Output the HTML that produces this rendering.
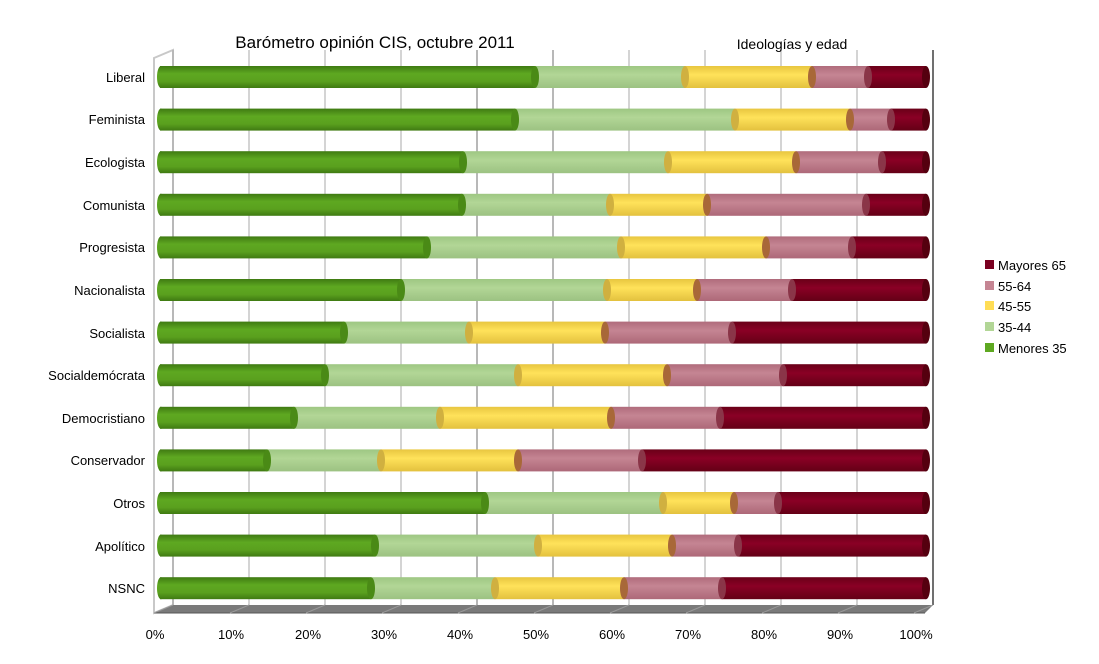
<!DOCTYPE html>
<html><head><meta charset="utf-8"><style>
html,body{margin:0;padding:0;background:#fff;}
svg{display:block;font-family:"Liberation Sans",sans-serif;}
</style></head><body>
<svg id="s" width="1099" height="664" viewBox="0 0 1099 664" xmlns="http://www.w3.org/2000/svg">
<defs>
<linearGradient id="g0" x1="0" y1="0" x2="0" y2="1"><stop offset="0" stop-color="#3f7a12"/><stop offset="0.35" stop-color="#5ea821"/><stop offset="0.7" stop-color="#5aa01e"/><stop offset="1" stop-color="#3f7a12"/></linearGradient>
<linearGradient id="g1" x1="0" y1="0" x2="0" y2="1"><stop offset="0" stop-color="#9ec783"/><stop offset="0.4" stop-color="#b2d696"/><stop offset="1" stop-color="#9cc282"/></linearGradient>
<linearGradient id="g2" x1="0" y1="0" x2="0" y2="1"><stop offset="0" stop-color="#e8c640"/><stop offset="0.4" stop-color="#ffe25a"/><stop offset="1" stop-color="#e3c13e"/></linearGradient>
<linearGradient id="g3" x1="0" y1="0" x2="0" y2="1"><stop offset="0" stop-color="#b06c7c"/><stop offset="0.4" stop-color="#c58593"/><stop offset="1" stop-color="#ad6878"/></linearGradient>
<linearGradient id="g4" x1="0" y1="0" x2="0" y2="1"><stop offset="0" stop-color="#6a0018"/><stop offset="0.4" stop-color="#8a0025"/><stop offset="1" stop-color="#640016"/></linearGradient>
</defs>
<!-- walls -->
<polygon points="154,58 173,50 173,605 154,613" fill="#fff" stroke="#c8c8c8" stroke-width="2"/>
<polygon points="154,613 173,605 933,605 925,613" fill="#7a7a7a"/>
<line x1="154" y1="613" x2="925" y2="613" stroke="#555"/>
<g id="grid" stroke="#9a9a9a" stroke-width="1"></g>
<g id="bars"></g>
<text x="375" y="48" font-size="17" text-anchor="middle" fill="#000">Barómetro opinión CIS, octubre 2011</text>
<text x="792" y="49" font-size="14" text-anchor="middle" fill="#000">Ideologías y edad</text>
<g font-size="13" text-anchor="end" fill="#000">
<text x="145" y="82">Liberal</text>
<text x="145" y="124">Feminista</text>
<text x="145" y="167">Ecologista</text>
<text x="145" y="210">Comunista</text>
<text x="145" y="252">Progresista</text>
<text x="145" y="295">Nacionalista</text>
<text x="145" y="338">Socialista</text>
<text x="145" y="380">Socialdemócrata</text>
<text x="145" y="423">Democristiano</text>
<text x="145" y="465">Conservador</text>
<text x="145" y="508">Otros</text>
<text x="145" y="551">Apolítico</text>
<text x="145" y="593">NSNC</text>
</g>
<g font-size="13" text-anchor="middle" fill="#000">
<text x="155" y="639">0%</text><text x="231" y="639">10%</text><text x="308" y="639">20%</text><text x="384" y="639">30%</text><text x="460" y="639">40%</text><text x="536" y="639">50%</text><text x="612" y="639">60%</text><text x="688" y="639">70%</text><text x="764" y="639">80%</text><text x="840" y="639">90%</text><text x="916" y="639">100%</text>
</g>
<g font-size="13" fill="#000">
<rect x="985" y="260" width="9" height="9" fill="#7a0020"/><text x="998" y="270">Mayores 65</text>
<rect x="985" y="281" width="9" height="9" fill="#c58593"/><text x="998" y="291">55-64</text>
<rect x="985" y="301" width="9" height="9" fill="#ffdd55"/><text x="998" y="311">45-55</text>
<rect x="985" y="322" width="9" height="9" fill="#b2d696"/><text x="998" y="332">35-44</text>
<rect x="985" y="343" width="9" height="9" fill="#5ea821"/><text x="998" y="353">Menores 35</text>
</g>
</svg>
<script>
var NS="http://www.w3.org/2000/svg";
function el(p,t,a){var e=document.createElementNS(NS,t);for(var k in a)e.setAttribute(k,a[k]);p.appendChild(e);return e;}
var grid=document.getElementById("grid");
for(var i=0;i<=10;i++){var x=173+76*i;el(grid,"line",{x1:x,y1:50,x2:x,y2:605,stroke:i>=4&&i%1==0&&(i==4||i==5||i==10)?"#707070":"#a8a8a8","stroke-width":i==10?2:1});
 el(grid,"line",{x1:x-19+8*i/10*0,y1:613,x2:x,y2:605,stroke:"#999"});}
var data=[[535,685,812,868],[515,735,850,891],[463,668,796,882],[462,610,707,866],[427,621,766,852],[401,607,697,792],[344,469,605,732],[325,518,667,783],[294,440,611,720],[267,381,518,642],[485,663,734,778],[375,538,672,738],[371,495,624,722]];
var caps=["#4a8a16","#a3c98a","#e0c040","#a0604a","#55000f"];
var capsEnd=["#4a8a16","#c9ad32","#a86838","#6a0018","#550012"];
var bars=document.getElementById("bars");
for(var r=0;r<13;r++){
 var cy=77+r*42.6, h=22, y=cy-h/2;
 var b=[160].concat(data[r]).concat([926]);
 for(var s=0;s<5;s++){
  var x0=b[s],x1=b[s+1];
  el(bars,"rect",{x:x0,y:y,width:x1-x0,height:h,fill:"url(#g"+s+")"});
 }
 el(bars,"ellipse",{cx:161,cy:cy,rx:4,ry:h/2,fill:"url(#g0)"});
 var endc=["#4a8a16","#d0b040","#a86838","#8a3548","#55000f"];
 for(var s=0;s<5;s++){
  el(bars,"ellipse",{cx:b[s+1],cy:cy,rx:4,ry:h/2,fill:endc[s]});
 }
}
</script>
</body></html>
